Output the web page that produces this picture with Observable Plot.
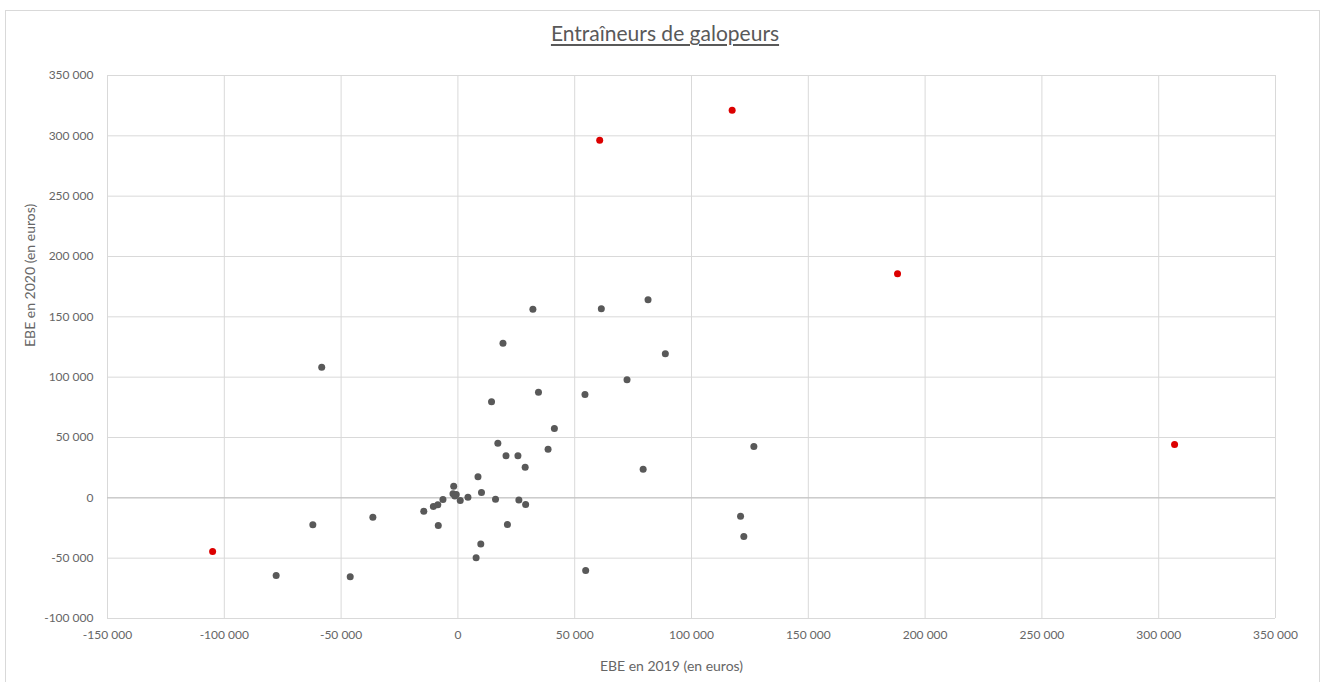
<!DOCTYPE html>
<html>
<head>
<meta charset="utf-8">
<script src="https://cdn.jsdelivr.net/npm/d3@7"></script>
<script src="https://cdn.jsdelivr.net/npm/@observablehq/plot@0.6"></script>
<style>
  html, body { margin: 0; padding: 0; background: #fff; }
  #frame { position: absolute; left: 5px; top: 10px; width: 1315px; height: 680px; border: 1px solid #d9d9d9; box-sizing: border-box; }
  #title { position: absolute; left: 0; top: 20px; width: 1330px; text-align: center; font-family: Lato, "Open Sans", sans-serif; font-size: 21px; color: #595959; text-decoration: underline; text-underline-offset: 3px; }
  #chart { position: absolute; left: 0; top: 60px; }
</style>
</head>
<body>
<div id="frame"></div>
<div id="title">Entraîneurs de galopeurs</div>
<div id="chart"></div>
<script>
// EBE 2019 (x) and EBE 2020 (y), in euros
const grayX = [-58300, -62100, -77800, -36400, -46100, -14600, -10500, -8600, -6400, -8400,
  -1800, -2100, -700, -1300, 1000, 4300, 10100, 16100, 26100, 29000,
  21200, 9800, 7800, 54700, 121000, 122400, 8600, 28800, 79300, 126700,
  38600, 20600, 25700, 17100, 41300, 14400, 54400, 34500, 72400, 88800,
  19300, 32100, 61400, 81400];
const grayY = [108300, -22400, -64400, -16100, -65500, -11200, -7200, -5800, -1400, -23000,
  9500, 3300, 2700, 1500, -2200, 500, 4400, -1100, -1700, -5600,
  -22200, -38200, -49700, -60300, -15300, -32100, 17500, 25400, 23700, 42500,
  40200, 34900, 34900, 45300, 57400, 79600, 85700, 87600, 97900, 119400,
  128200, 156200, 156800, 164200];
const redX = [60700, 117400, 188200, 306800, -105000];
const redY = [296300, 321200, 185800, 44200, -44500];

const xTicks = [-150000, -100000, -50000, 0, 50000, 100000, 150000, 200000, 250000, 300000, 350000];
const yTicks = [-100000, -50000, 0, 50000, 100000, 150000, 200000, 250000, 300000, 350000];
const xLabel = "EBE en 2019 (en euros)";
const yLabel = "EBE en 2020 (en euros)";

const gray = grayX.map((x, i) => ({x, y: grayY[i]}));
const red = redX.map((x, i) => ({x, y: redY[i]}));

const fr = d3.formatLocale({decimal: ",", thousands: "\u00a0", grouping: [3], currency: ["", " €"], minus: "-"});
const fmt = fr.format(",d");

const chart = Plot.plot({
  width: 1323,
  height: 618,
  marginLeft: 107,
  marginRight: 48,
  marginTop: 15,
  marginBottom: 60,
  style: {fontFamily: "Lato, 'Open Sans', sans-serif", fontSize: "12px", color: "#595959", background: "transparent"},
  x: {domain: [-150000, 350000]},
  y: {domain: [-100000, 350000]},
  marks: [
    Plot.gridX(xTicks, {stroke: "#d9d9d9", strokeOpacity: 1}),
    Plot.gridY(yTicks, {stroke: "#d9d9d9", strokeOpacity: 1}),
    Plot.ruleY([0], {stroke: "#bfbfbf"}),
    Plot.axisX(xTicks, {tickSize: 0, tickPadding: 12, tickFormat: fmt, label: null, fill: "#666666", fontSize: 12}),
    Plot.axisY(yTicks, {tickSize: 0, tickPadding: 14, tickFormat: fmt, label: null, fill: "#666666", fontSize: 12}),
    Plot.dot(gray, {x: "x", y: "y", r: 3.5, fill: "#595959", stroke: "none"}),
    Plot.dot(red, {x: "x", y: "y", r: 3.5, fill: "#dc0000", stroke: "none"}),
    Plot.text([xLabel], {frameAnchor: "bottom", dy: 52, dx: -20, text: d => d, fill: "#666666", fontSize: 14}),
    Plot.text([yLabel], {frameAnchor: "left", dx: -77, rotate: -90, text: d => d, fill: "#666666", fontSize: 14})
  ]
});
document.getElementById("chart").appendChild(chart);
</script>
</body>
</html>
